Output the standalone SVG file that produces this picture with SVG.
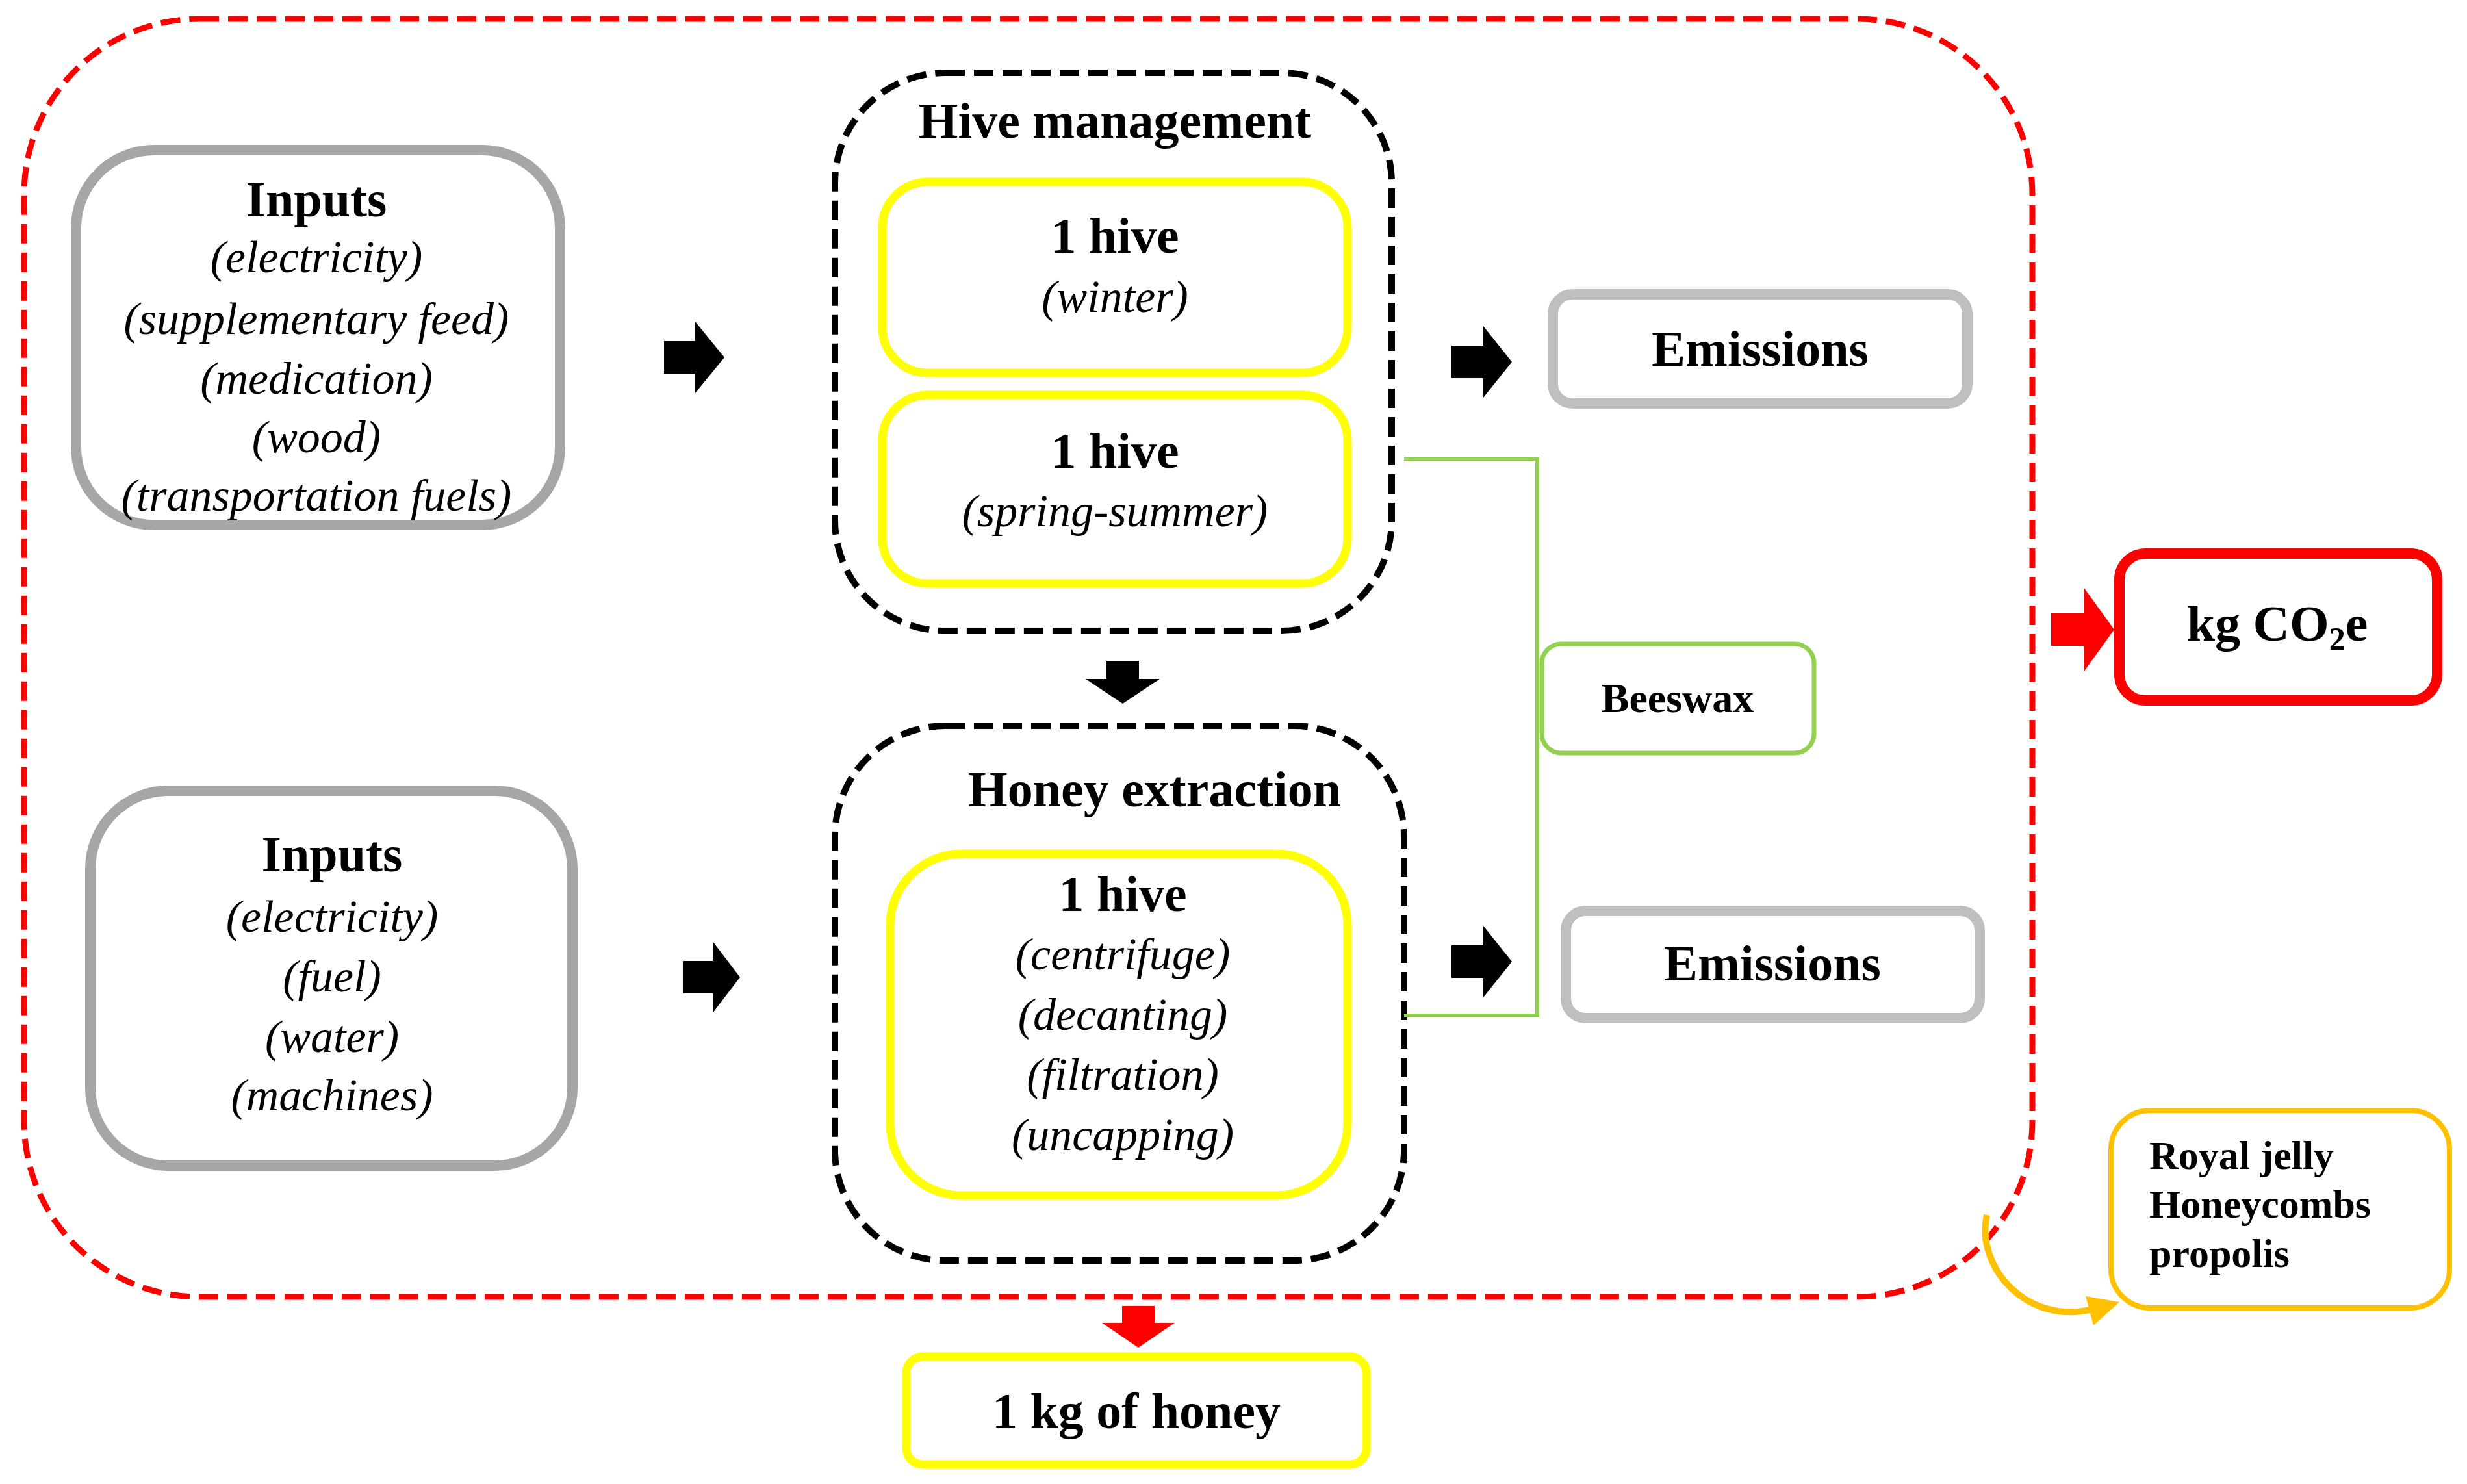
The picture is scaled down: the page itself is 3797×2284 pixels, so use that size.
<svg xmlns="http://www.w3.org/2000/svg" width="3797" height="2284" viewBox="0 0 3797 2284">
<style>
text{font-family:"Liberation Serif","Times New Roman",serif;fill:#000;text-anchor:middle}
.b{font-weight:bold}
.t{font-size:78px;font-weight:bold}
.i{font-size:70px;font-style:italic}
.gray{fill:#fff;stroke:#a6a6a6;stroke-width:16}
.gray2{fill:#fff;stroke:#bfbfbf;stroke-width:16}
.yel{fill:#fff;stroke:#ffff00;stroke-width:13}
.bd{fill:none;stroke:#000;stroke-width:10;stroke-dasharray:30 14}
.arr{fill:#000}
</style>
<rect x="37" y="29" width="3091" height="1967" rx="270" fill="none" stroke="#ff0000" stroke-width="9" stroke-dasharray="30 14"/>
<g id="inputs1">
<rect class="gray" x="117" y="231" width="745" height="577" rx="120"/>
<text class="t" x="487" y="333">Inputs</text>
<text class="i" x="487" y="419">(electricity)</text>
<text class="i" x="487" y="514">(supplementary feed)</text>
<text class="i" x="487" y="606">(medication)</text>
<text class="i" x="487" y="696">(wood)</text>
<text class="i" x="487" y="786">(transportation fuels)</text>
</g>
<g id="inputs2">
<rect class="gray" x="139" y="1217" width="742" height="577" rx="120"/>
<text class="t" x="511" y="1341">Inputs</text>
<text class="i" x="511" y="1434">(electricity)</text>
<text class="i" x="511" y="1526">(fuel)</text>
<text class="i" x="511" y="1619">(water)</text>
<text class="i" x="511" y="1709">(machines)</text>
</g>
<g id="hive-management">
<rect class="bd" x="1285" y="112" width="857" height="859" rx="170"/>
<text class="t" x="1716" y="212">Hive management</text>
</g>
<g id="hive-winter">
<rect class="yel" x="1358" y="280" width="716" height="294" rx="70"/>
<text class="t" x="1716" y="389">1 hive</text>
<text class="i" x="1716" y="480">(winter)</text>
</g>
<g id="hive-spring">
<rect class="yel" x="1358" y="608" width="716" height="290" rx="70"/>
<text class="t" x="1716" y="720">1 hive</text>
<text class="i" x="1716" y="810">(spring-summer)</text>
</g>
<g id="honey-extraction">
<rect class="bd" x="1285" y="1117" width="876" height="823" rx="170"/>
<text class="t" x="1777" y="1241">Honey extraction</text>
</g>
<g id="hive-extraction">
<rect class="yel" x="1370" y="1314" width="704" height="526" rx="110"/>
<text class="t" x="1728" y="1402">1 hive</text>
<text class="i" x="1728" y="1492">(centrifuge)</text>
<text class="i" x="1728" y="1585">(decanting)</text>
<text class="i" x="1728" y="1677">(filtration)</text>
<text class="i" x="1728" y="1770">(uncapping)</text>
</g>
<g id="emissions1">
<rect class="gray2" x="2390" y="453" width="638" height="168" rx="30"/>
<text class="t" x="2709" y="563">Emissions</text>
</g>
<g id="emissions2">
<rect class="gray2" x="2410" y="1402" width="637" height="165" rx="30"/>
<text class="t" x="2728" y="1509">Emissions</text>
</g>
<g id="beeswax">
<rect x="2373" y="991" width="419" height="168" rx="30" fill="#fff" stroke="#92d050" stroke-width="7"/>
<text class="b" x="2582" y="1096" font-size="64">Beeswax</text>
</g>
<g id="kgco2e">
<rect x="3262" y="852" width="489" height="226" rx="40" fill="#fff" stroke="#ff0000" stroke-width="16"/>
<text class="t" x="3505" y="986">kg CO<tspan font-size="50" dy="14">2</tspan><tspan dy="-14">e</tspan></text>
</g>
<g id="royal-jelly">
<rect x="3249" y="1709" width="521" height="304" rx="60" fill="#fff" stroke="#ffc000" stroke-width="8"/>
<text class="b" x="3308" y="1799" font-size="62" style="text-anchor:start">Royal jelly</text>
<text class="b" x="3308" y="1874" font-size="62" style="text-anchor:start">Honeycombs</text>
<text class="b" x="3308" y="1950" font-size="62" style="text-anchor:start">propolis</text>
</g>
<g id="honey">
<rect class="yel" x="1395" y="2088" width="708" height="166" rx="25"/>
<text class="t" x="1749" y="2198">1 kg of honey</text>
</g>
<g id="connectors">
<polyline points="2161,706 2366,706 2366,1563 2161,1563" fill="none" stroke="#92d050" stroke-width="6"/>
<polygon class="arr" points="1022,525 1070,525 1070,495 1115,550 1070,605 1070,575 1022,575"/>
<polygon class="arr" points="1051,1479 1097,1479 1097,1449 1139,1504 1097,1559 1097,1529 1051,1529"/>
<polygon class="arr" points="2234,532 2283,532 2283,502 2327,557 2283,612 2283,582 2234,582"/>
<polygon class="arr" points="2234,1455 2283,1455 2283,1425 2327,1480 2283,1535 2283,1505 2234,1505"/>
<polygon class="arr" points="1703,1017 1753,1017 1753,1045 1785,1045 1728,1083 1671,1045 1703,1045"/>
<polygon fill="#ff0000" points="3157,944 3207,944 3207,904 3254,969 3207,1034 3207,994 3157,994"/>
<polygon fill="#ff0000" points="1727,2010 1777,2010 1777,2036 1808,2036 1752,2074 1696,2036 1727,2036"/>
<path d="M3058,1870 C3040,1950 3120,2040 3220,2015" fill="none" stroke="#ffc000" stroke-width="10"/>
<polygon fill="#ffc000" points="3210,1995 3262,2004 3222,2040"/>
</g>
</svg>
